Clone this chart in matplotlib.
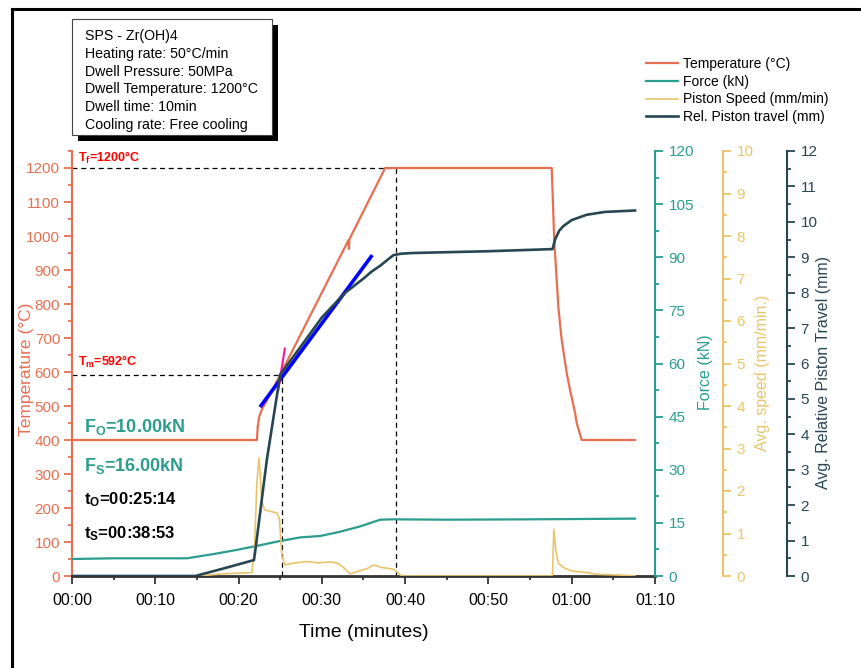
import matplotlib.pyplot as plt
import matplotlib.ticker as ticker
from matplotlib.patches import Rectangle
from matplotlib.lines import Line2D

plt.rcParams['font.family'] = ['Liberation Sans', 'DejaVu Sans']
plt.rcParams['mathtext.fontset'] = 'custom'
plt.rcParams['mathtext.rm'] = 'Liberation Sans'
plt.rcParams['mathtext.it'] = 'Liberation Sans:italic'
plt.rcParams['mathtext.bf'] = 'Liberation Sans:bold'

# ---- data (time in minutes) ----
temp_t = [0, 22.2, 22.3, 22.5, 22.8, 23.3, 25.0, 33.2, 33.25, 33.3, 37.6,
          57.6, 57.9, 58.4, 58.8, 59.4, 59.8, 60.4, 60.6, 61.2, 67.6]
temp_c = [400, 400, 440, 470, 490, 512, 592, 988, 962, 990, 1200,
          1200, 988, 790, 694, 597, 547, 480, 450, 400, 400]

force_t = [0, 5, 13.8, 17, 19.4, 21.8, 24.6, 27.4, 29.8, 32, 34.6, 37, 38.6, 45, 55, 67.6]
force_kn = [4.8, 5.0, 5.0, 6.2, 7.2, 8.3, 9.7, 10.9, 11.3, 12.4, 14.0, 15.9, 16.0, 15.9, 16.0, 16.2]

speed_t = [0, 15.2, 18, 21.6, 21.9, 22.2, 22.45, 22.6, 22.77, 23.1, 24.6, 24.9, 25.2, 25.6,
           26.5, 28.2, 29.5, 31.0, 31.9, 32.6, 33.4, 34.5, 35.5, 36.2, 37.2, 38.6, 39.6,
           57.6, 57.7, 57.85, 58.1, 58.4, 59.0, 60.0, 61.8, 63, 66, 67.6]
speed_mm = [0, 0, 0.05, 0.08, 0.6, 2.2, 2.78, 2.4, 1.79, 1.56, 1.48, 1.35, 0.46, 0.26,
            0.3, 0.34, 0.31, 0.33, 0.3, 0.2, 0.05, 0.12, 0.18, 0.26, 0.2, 0.16, 0.0,
            0.0, 0.05, 1.1, 0.6, 0.3, 0.2, 0.12, 0.08, 0.04, 0.02, 0.0]

travel_t = [0, 14.8, 18, 21.85, 22.0, 23.4, 25.0, 28, 30, 32.8, 33.7, 35.0, 36.0, 37.0,
            38.0, 38.6, 39.5, 40.9, 50, 57.7, 58.0, 58.5, 59.0, 60.0, 61.8, 64, 67.6]
travel_mm = [0, 0, 0.2, 0.45, 0.7, 3.29, 5.69, 6.65, 7.3, 8.0, 8.16, 8.4, 8.6, 8.76,
             8.95, 9.06, 9.1, 9.12, 9.17, 9.23, 9.5, 9.75, 9.88, 10.05, 10.2, 10.28, 10.32]

# tangent lines (in travel units)
blue_t = [22.57, 36.05]
blue_mm = [4.77, 9.06]
pink_t = [24.73, 25.57]
pink_mm = [5.2, 6.45]

T_f, T_m = 1200, 592
t_O, t_S = 25.23, 38.88

info_lines = ['SPS - Zr(OH)4', 'Heating rate: 50°C/min', 'Dwell Pressure: 50MPa',
              'Dwell Temperature: 1200°C', 'Dwell time: 10min', 'Cooling rate: Free cooling']

TEMP = '#E76F51'
FORCE = '#2A9D8F'
SPEED = '#E9C46A'
TRAVEL = '#264653'

W, H = 862, 668
fig = plt.figure(figsize=(W / 100, H / 100), dpi=100)


def fx(px):
    return px / W


def fy(py):
    return 1 - py / H


ax = fig.add_axes([fx(72), fy(576), fx(655) - fx(72), fy(151) - fy(576)])
ax2 = ax.twinx()
ax3 = ax.twinx()
ax4 = ax.twinx()

ax3.spines['right'].set_position(('axes', (723 - 72) / 583))
ax4.spines['right'].set_position(('axes', (787 - 72) / 583))

# lines
ax.plot(temp_t, temp_c, color=TEMP, lw=1.6, label='Temperature (°C)', zorder=3)
ax2.plot(force_t, force_kn, color=FORCE, lw=1.6, label='Force (kN)')
ax3.plot(speed_t, speed_mm, color=SPEED, lw=1.2, label='Piston Speed (mm/min)')
ax4.plot(blue_t, blue_mm, color='#0000FF', lw=2.6, solid_capstyle='butt', zorder=1)
ax4.plot(pink_t, pink_mm, color='#FF1493', lw=1.5, solid_capstyle='butt', zorder=1)
ax4.plot(travel_t, travel_mm, color=TRAVEL, lw=1.9, label='Rel. Piston travel (mm)', zorder=2)

# dashed guides
ax.plot([0, t_S], [T_f, T_f], color='k', lw=0.9, ls=(0, (4, 3)))
ax.plot([t_S, t_S], [0, T_f], color='k', lw=0.9, ls=(0, (4, 3)))
ax.plot([0, t_O], [T_m, T_m], color='k', lw=0.9, ls=(0, (4, 3)))
ax.plot([t_O, t_O], [0, T_m], color='k', lw=0.9, ls=(0, (4, 3)))

# limits & ticks
ax.set_xlim(0, 70)
ax.set_ylim(0, 1250)
ax2.set_ylim(0, 120)
ax3.set_ylim(0, 10)
ax4.set_ylim(0, 12)

ax.xaxis.set_major_locator(ticker.MultipleLocator(10))
ax.xaxis.set_minor_locator(ticker.MultipleLocator(5))
ax.xaxis.set_major_formatter(ticker.FuncFormatter(lambda m, p: f'{int(m // 60):02d}:{int(m % 60):02d}'))
ax.yaxis.set_major_locator(ticker.MultipleLocator(100))
ax.yaxis.set_minor_locator(ticker.MultipleLocator(50))
ax2.yaxis.set_major_locator(ticker.MultipleLocator(15))
ax2.yaxis.set_minor_locator(ticker.MultipleLocator(7.5))
ax3.yaxis.set_major_locator(ticker.MultipleLocator(1))
ax3.yaxis.set_minor_locator(ticker.MultipleLocator(0.5))
ax4.yaxis.set_major_locator(ticker.MultipleLocator(1))
ax4.yaxis.set_minor_locator(ticker.MultipleLocator(0.5))

for a in (ax, ax2, ax3, ax4):
    for s in ('top', 'left', 'bottom', 'right'):
        a.spines[s].set_visible(False)

ax.spines['left'].set_visible(True)
ax.spines['left'].set_color(TEMP)
ax.spines['left'].set_linewidth(1.5)
ax.spines['bottom'].set_visible(True)
ax.spines['bottom'].set_color('#333333')
ax.spines['bottom'].set_linewidth(2)

for a, c in ((ax2, FORCE), (ax3, SPEED), (ax4, TRAVEL)):
    a.spines['right'].set_visible(True)
    a.spines['right'].set_color(c)
    a.spines['right'].set_linewidth(1.5)
    a.tick_params(axis='y', which='major', length=5.5, width=1.3, colors=c, labelsize=11, pad=4.2)
    a.tick_params(axis='y', which='minor', length=3, width=1.3, colors=c)

ax.tick_params(axis='y', which='major', length=5.5, width=1.3, colors=TEMP, labelsize=11, pad=3)
ax.tick_params(axis='y', which='minor', length=3, width=1.3, colors=TEMP)
ax.tick_params(axis='x', which='major', length=5.5, width=1.3, colors='#333333', labelsize=11.5, pad=7)
ax.tick_params(axis='x', which='minor', length=3, width=1.3, colors='#333333')
ax.tick_params(axis='x', labelcolor='black')

ax.set_xlabel('Time (minutes)', fontsize=14, labelpad=11)
ax.set_ylabel('Temperature (°C)', fontsize=12.5, color=TEMP)
ax2.set_ylabel('Force (kN)', fontsize=11.5, color=FORCE)
ax3.set_ylabel('Avg. speed (mm/min.)', fontsize=11.5, color=SPEED)
ax4.set_ylabel('Avg. Relative Piston Travel (mm)', fontsize=11.5, color=TRAVEL)
ax.yaxis.set_label_coords(-0.066, 0.486)
ax2.yaxis.set_label_coords(1.0738, 0.479)
ax3.yaxis.set_label_coords(1.1715, 0.479)
ax4.yaxis.set_label_coords(1.276, 0.479)

# annotations
ax.text(0.011, (576 - 158) / 425, r'T$_\mathbf{f}$=1200°C', transform=ax.transAxes,
        color='red', fontsize=9, fontweight='bold', va='center')
ax.text(0.011, (576 - 362) / 425, r'T$_\mathbf{m}$=592°C', transform=ax.transAxes,
        color='red', fontsize=9, fontweight='bold', va='center')
ax.text(0.0206, (576 - 427) / 425, r'F$_\mathbf{O}$=10.00kN', transform=ax.transAxes,
        color=FORCE, fontsize=13, fontweight='bold', va='center')
ax.text(0.0206, (576 - 466) / 425, r'F$_\mathbf{S}$=16.00kN', transform=ax.transAxes,
        color=FORCE, fontsize=13, fontweight='bold', va='center')
ax.text(0.0206, (576 - 500) / 425, r't$_\mathbf{O}$=00:25:14', transform=ax.transAxes,
        color='black', fontsize=12, fontweight='bold', va='center')
ax.text(0.0206, (576 - 534) / 425, r't$_\mathbf{S}$=00:38:53', transform=ax.transAxes,
        color='black', fontsize=12, fontweight='bold', va='center')

# info box with shadow
fig.add_artist(Rectangle((fx(78), fy(141)), fx(278) - fx(78), fy(25) - fy(141),
                         transform=fig.transFigure, facecolor='black', edgecolor='none'))
fig.add_artist(Rectangle((fx(72), fy(135)), fx(272) - fx(72), fy(19) - fy(135),
                         transform=fig.transFigure, facecolor='white', edgecolor='#444444', lw=0.8))
for i, line in enumerate(info_lines):
    fig.text(fx(85), fy(36 + i * 17.8), line, fontsize=10.2, va='center')

# legend
handles = [ax.get_lines()[0], ax2.get_lines()[0], ax3.get_lines()[0], ax4.get_lines()[2]]
fig.legend(handles, [h.get_label() for h in handles], loc='upper left',
           bbox_to_anchor=(fx(646), fy(57)), frameon=False, fontsize=10,
           handlelength=2.3, handletextpad=0.35, labelspacing=0.27,
           borderpad=0, borderaxespad=0)

# outer frame
fig.add_artist(Line2D([fx(12.5), fx(12.5)], [0, fy(9)], color='black', lw=2.2, transform=fig.transFigure))
fig.add_artist(Line2D([fx(12.5), 1], [fy(9), fy(9)], color='black', lw=2.2, transform=fig.transFigure))

fig.savefig('out.png', dpi=100)
